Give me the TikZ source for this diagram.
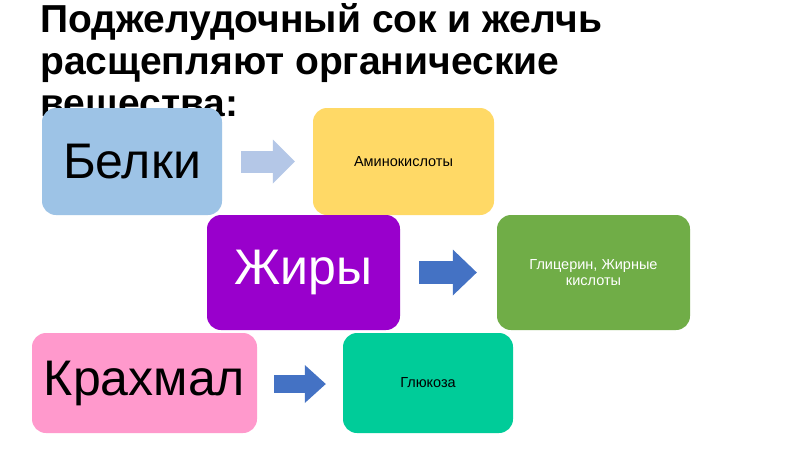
\documentclass[tikz,border=0pt]{standalone}
\usepackage{fontspec}
\setmainfont{Liberation Sans}
\usetikzlibrary{arrows.meta}
\definecolor{belkicol}{HTML}{9DC3E6}
\definecolor{aminocol}{HTML}{FFD966}
\definecolor{zhirycol}{HTML}{9900CC}
\definecolor{glicol}{HTML}{70AD47}
\definecolor{krahcol}{HTML}{FF99CC}
\definecolor{glukcol}{HTML}{00CC99}
\definecolor{lightarr}{HTML}{B4C7E7}
\definecolor{darkarr}{HTML}{4472C4}
\tikzset{
  box/.style={rounded corners=14pt, inner sep=0pt, align=center},
  bigtext/.style={font=\fontsize{50}{58}\selectfont},
  smalltext/.style={font=\fontsize{14.5}{16}\selectfont},
}

\begin{document}
\begin{tikzpicture}[x=1pt,y=-1pt]
        \useasboundingbox[fill=white] (0,0) rectangle (800,450);
        \node[anchor=north west, inner sep=0pt, align=left,
              font=\bfseries\fontsize{39}{42}\selectfont] (title) at (40,3.5)
              {Поджелудочный сок и желчь\\расщепляют органические\\вещества:};
        \node[box, bigtext, fill=belkicol, minimum width=180pt, minimum height=107pt] (belki) at (132,161.5) {Белки};
        \node[box, smalltext, fill=aminocol, minimum width=181pt, minimum height=107pt] (amino) at (403.5,161.5) {Аминокислоты};
        \node[box, bigtext, text=white, fill=zhirycol, minimum width=193pt, minimum height=115pt] (zhiry) at (303.5,272.5) {Жиры};
        \node[box, smalltext, text=white, fill=glicol, minimum width=193pt, minimum height=115pt] (glic) at (593.5,272.5) {Глицерин, Жирные\\кислоты};
        \node[box, bigtext, fill=krahcol, minimum width=225pt, minimum height=100pt] (krah) at (144.5,383) {Крахмал};
        \node[box, smalltext, fill=glukcol, minimum width=170pt, minimum height=100pt] (gluk) at (428,383) {Глюкоза};
        \draw[lightarr, line width=22pt, -{Triangle[length=22pt,width=44pt,line width=0pt]}]
              ([xshift=19pt]belki.east) -- ([xshift=-18pt]amino.west);
        \draw[darkarr, line width=23pt, -{Triangle[length=24pt,width=46pt,line width=0pt]}]
              ([xshift=19pt]zhiry.east) -- ([xshift=-20pt]glic.west);
        \draw[darkarr, line width=18pt, -{Triangle[length=21pt,width=38pt,line width=0pt]}]
              ([xshift=17pt,yshift=-1pt]krah.east) -- ([xshift=-17pt,yshift=-1pt]gluk.west);
\end{tikzpicture}
\end{document}
